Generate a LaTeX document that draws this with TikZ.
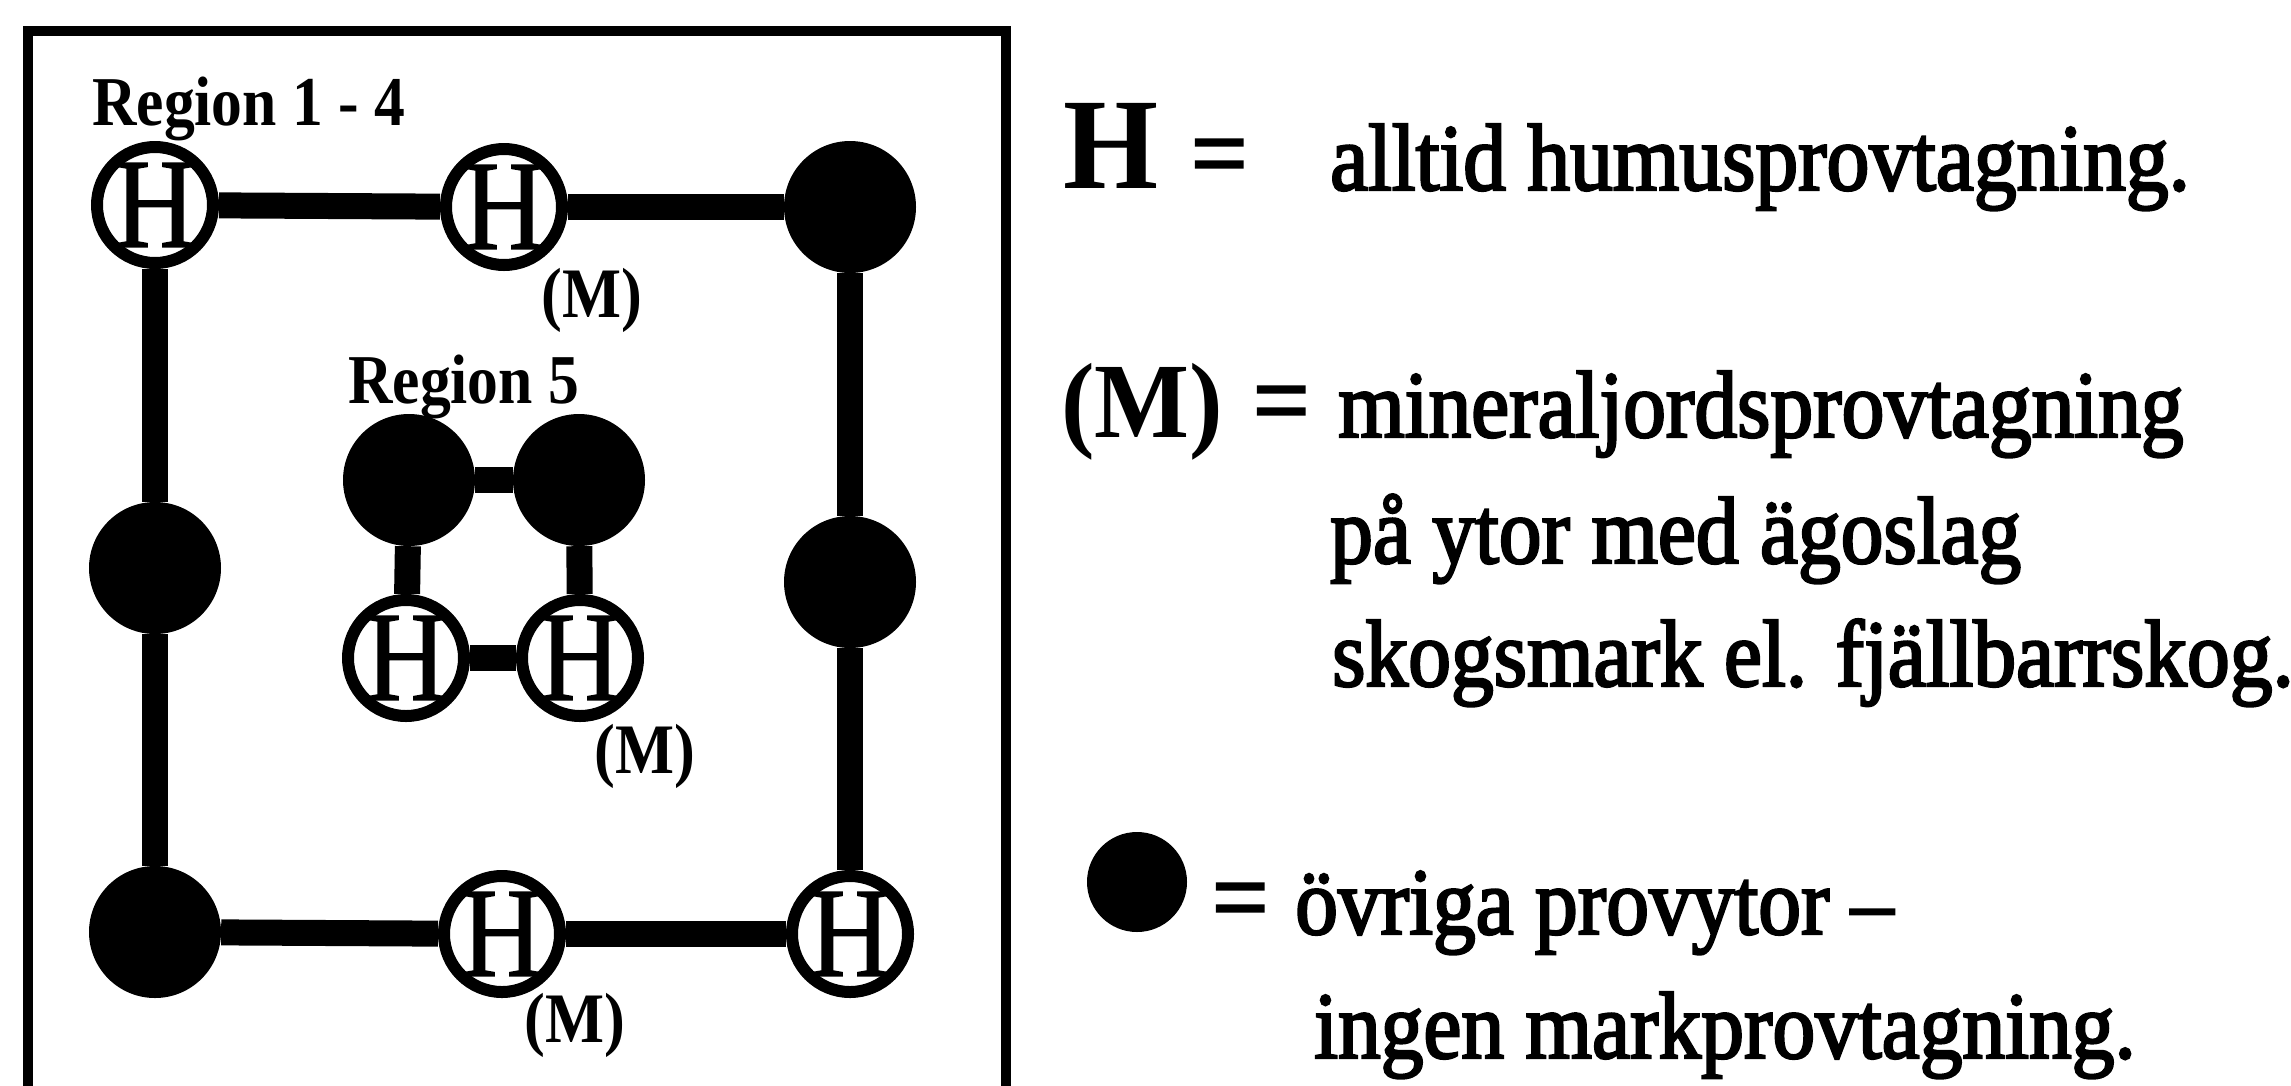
\documentclass[tikz,border=0pt]{standalone}
\usepackage{fontspec}
\setmainfont{Liberation Serif}
\newfontfamily\txtfont[FakeStretch=0.9,FakeBold=2.5]{Liberation Serif}
\newfontfamily\lblfont[FakeStretch=0.88]{Liberation Serif}
\newfontfamily\hfont[FakeStretch=0.88,FakeBold=1.2]{Liberation Serif}
\newfontfamily\keyfont[FakeStretch=0.94]{Liberation Serif}
\newcommand\Hmark{\makebox[0pt]{\raisebox{-.5\height}[0pt][0pt]{H}}}
\begin{document}
\begin{tikzpicture}[x=1pt,y=-1pt,
  hnode/.style={circle,draw=black,line width=12,fill=white,minimum size=116,inner sep=0,
    font=\hfont\fontsize{128}{128}\selectfont},
  bnode/.style={circle,fill=black,minimum size=132,inner sep=0},
  conn/.style={line width=26},
  lbl/.style={inner sep=0,anchor=base west},
  txt/.style={lbl,font=\txtfont\fontsize{95}{95}\selectfont},
  eq/.style={lbl,font=\txtfont\fontsize{110}{110}\selectfont},
  region/.style={lbl,font=\lblfont\bfseries\fontsize{70}{70}\selectfont},
  mlabel/.style={inner sep=0,anchor=base,font=\lblfont\bfseries\fontsize{71}{71}\selectfont}]
\useasboundingbox (0,0) rectangle (2291,1085);
\fill[white] (0,0) rectangle (2291,1085);
% frame
\draw[line width=10,line join=miter] (28,1100) -- (28,31) -- (1006,31) -- (1006,1100);
% outer nodes
\node[hnode] (tl) at (155,205) {\Hmark};
\node[hnode] (tm) at (504,207) {\Hmark};
\node[bnode] (tr) at (850,207) {};
\node[bnode] (ml) at (155,568) {};
\node[bnode] (mr) at (850,582) {};
\node[bnode] (bl) at (155,932) {};
\node[hnode] (bm) at (502,934) {\Hmark};
\node[hnode] (br) at (850,934) {\Hmark};
% inner nodes
\node[bnode] (ia) at (409,480) {};
\node[bnode] (ib) at (579,480) {};
\node[hnode] (ic) at (406,658) {\Hmark};
\node[hnode] (id) at (580,658) {\Hmark};
% connectors
\draw[conn] (tl) -- (tm);
\draw[conn] (tm) -- (tr);
\draw[conn] (tl) -- (ml);
\draw[conn] (ml) -- (bl);
\draw[conn] (bl) -- (bm);
\draw[conn] (bm) -- (br);
\draw[conn] (tr) -- (mr);
\draw[conn] (mr) -- (br);
\draw[conn] (ia) -- (ib);
\draw[conn] (ia) -- (ic);
\draw[conn] (ib) -- (id);
\draw[conn] (ic) -- (id);
% labels
\node[region] (r14) at (92,125) {Region 1 - 4};
\node[region] (r5) at (348,403) {Region 5};
\node[mlabel] (m1) at (592,317) {(M)};
\node[mlabel] (m2) at (645,773) {(M)};
\node[mlabel] (m3) at (575,1042) {(M)};
% legend
\node[lbl,font=\keyfont\bfseries\fontsize{130}{130}\selectfont] (kH) at (1063,188) {H};
\node[eq] (e1) at (1191,190) {=};
\node[txt] (t1) at (1330,190) {alltid humusprovtagning.};
\node[lbl,font=\keyfont\bfseries\fontsize{107}{107}\selectfont] (kM) at (1061,437) {(M)};
\node[eq] (e2) at (1253,437) {=};
\node[txt] (t2) at (1338,437) {mineraljordsprovtagning};
\node[txt] (t3) at (1330,563) {på ytor med ägoslag};
\node[txt] (t4) at (1332,686) {skogsmark el. fjällbarrskog.};
\node[bnode,minimum size=100] (kB) at (1137,882) {};
\node[eq] (e3) at (1212,934) {=};
\node[txt] (t5) at (1295,934) {övriga provytor –};
\node[txt] (t6) at (1314,1058) {ingen markprovtagning.};
\end{tikzpicture}
\end{document}
